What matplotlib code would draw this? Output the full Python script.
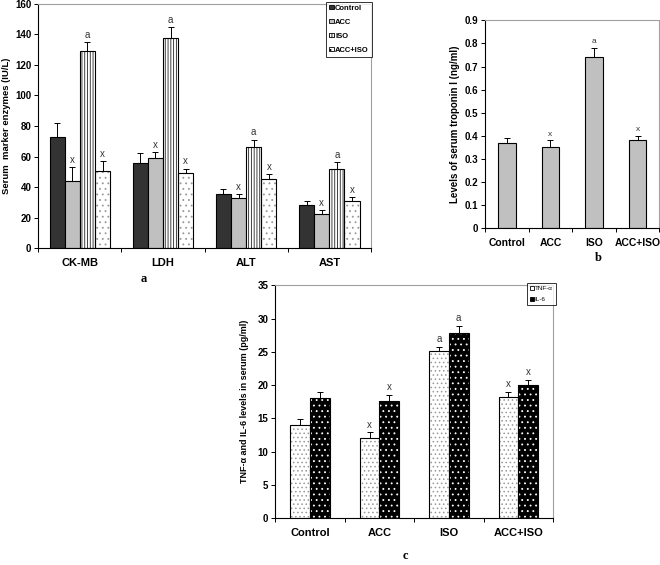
import numpy as np
import matplotlib
matplotlib.use("Agg")
import matplotlib.pyplot as plt

plt.rcParams['font.family'] = ['Liberation Sans', 'DejaVu Sans']
plt.rcParams['hatch.linewidth'] = 0.6

# panel a: serum marker enzymes
enzymes = ['CK-MB', 'LDH', 'ALT', 'AST']
groups_a = ['Control', 'ACC', 'ISO', 'ACC+ISO']
enz_vals = {
    'Control': [73, 55.5, 35.5, 28],
    'ACC': [44, 59, 33, 22.5],
    'ISO': [129, 138, 66.5, 52],
    'ACC+ISO': [50.5, 49, 45, 31],
}
enz_err = {
    'Control': [9, 6.5, 3, 3],
    'ACC': [9, 4, 2.5, 2.5],
    'ISO': [6, 7, 4.5, 4.5],
    'ACC+ISO': [6.5, 3, 3.5, 2.5],
}
enz_marks = {
    'Control': ['', '', '', ''],
    'ACC': ['x', 'x', 'x', 'x'],
    'ISO': ['a', 'a', 'a', 'a'],
    'ACC+ISO': ['x', 'x', 'x', 'x'],
}

# panel b: troponin I
trop_groups = ['Control', 'ACC', 'ISO', 'ACC+ISO']
trop_vals = [0.37, 0.35, 0.74, 0.38]
trop_err = [0.02, 0.03, 0.04, 0.02]
trop_marks = ['', 'x', 'a', 'x']

# panel c: cytokines
cyt_groups = ['Control', 'ACC', 'ISO', 'ACC+ISO']
tnf_vals = [14, 12, 25.2, 18.2]
tnf_err = [0.9, 0.9, 0.6, 0.8]
tnf_marks = ['', 'x', 'a', 'x']
il6_vals = [18.1, 17.6, 27.9, 20]
il6_err = [0.9, 0.9, 1.0, 0.8]
il6_marks = ['', 'x', 'a', 'x']

GRAY_BORDER = '#a0a0a0'


def style_axes(ax):
    for s in ['top', 'right']:
        ax.spines[s].set_color(GRAY_BORDER)
        ax.spines[s].set_linewidth(0.8)
    for s in ['left', 'bottom']:
        ax.spines[s].set_color('black')
        ax.spines[s].set_linewidth(0.8)
    ax.tick_params(axis='y', direction='out', length=3, width=0.7, labelsize=7, pad=2)
    ax.tick_params(axis='x', which='major', length=0, labelsize=8, pad=7)
    ax.tick_params(axis='x', which='minor', direction='out', length=3, width=0.7)
    for lab in ax.get_yticklabels() + ax.get_xticklabels():
        lab.set_fontweight('bold')


def bar_plain(ax, x, h, w, face, hatch=None, hcolor='black'):
    if hatch:
        ax.bar(x, h, w, color=face, edgecolor=hcolor, hatch=hatch, linewidth=0, zorder=2)
        ax.bar(x, h, w, fill=False, edgecolor='black', linewidth=0.8, zorder=3)
    else:
        ax.bar(x, h, w, color=face, edgecolor='black', linewidth=0.8, zorder=2)


def err_up(ax, x, h, e):
    ax.errorbar(x, h, yerr=[np.zeros(len(e)), e], fmt='none', ecolor='black',
                elinewidth=0.7, capsize=2.2, capthick=0.7, zorder=4)


def marks(ax, x, h, e, m, off, fs=7):
    for xi, hi, ei, mi in zip(x, h, e, m):
        if mi:
            ax.text(xi, hi + ei + off, mi, ha='center', va='bottom', fontsize=fs, color='#333333')


fig = plt.figure(figsize=(6.6, 5.65), dpi=100)

# ---------- panel a ----------
ax1 = fig.add_axes([0.058, 0.561, 0.504, 0.432])
styles_a = {
    'Control': dict(face='#333333'),
    'ACC': dict(face='#c0c0c0'),
    'ISO': dict(face='white', hatch='||||||', hcolor='#222222'),
    'ACC+ISO': dict(face='white', hatch='...', hcolor='#999999'),
}
xa = np.arange(len(enzymes))
wa = 0.182
for i, g in enumerate(groups_a):
    xs = xa + (i - 1.5) * wa
    bar_plain(ax1, xs, enz_vals[g], wa, **styles_a[g])
    err_up(ax1, xs, enz_vals[g], enz_err[g])
    marks(ax1, xs, enz_vals[g], enz_err[g], enz_marks[g], 1.5)
ax1.set_xlim(-0.5, 3.5)
ax1.set_ylim(0, 160)
ax1.set_yticks(np.arange(0, 161, 20))
ax1.set_xticks(xa)
ax1.set_xticklabels(enzymes)
ax1.set_xticks(np.arange(-0.5, 3.6, 1), minor=True)
ax1.set_ylabel('Serum  marker enzymes (IU/L)', fontsize=6.8, fontweight='bold')
ax1.yaxis.set_label_coords(-0.082, 0.5)
style_axes(ax1)
handles = [plt.Rectangle((0, 0), 1, 1, facecolor=styles_a[g]['face'], edgecolor='black',
                         hatch=styles_a[g].get('hatch'), linewidth=0.6) for g in groups_a]
leg = ax1.legend(handles, groups_a, loc='upper right', bbox_to_anchor=(1.003, 1.01), fontsize=5.5,
                 frameon=True, fancybox=False, edgecolor='black', handlelength=0.6, handleheight=0.6,
                 handletextpad=0.2, borderpad=0.4, labelspacing=0.9, borderaxespad=0)
leg.get_frame().set_linewidth(0.7)
for t in leg.get_texts():
    t.set_fontweight('bold')
fig.text(0.218, 0.506, 'a', fontsize=9, fontweight='bold', family='Liberation Serif', ha='center', va='center')

# ---------- panel b ----------
ax2 = fig.add_axes([0.735, 0.596, 0.264, 0.368])
xb = np.arange(len(trop_groups))
bar_plain(ax2, xb, trop_vals, 0.41, '#c0c0c0')
err_up(ax2, xb, trop_vals, trop_err)
marks(ax2, xb, trop_vals, trop_err, trop_marks, 0.012, fs=6)
ax2.set_xlim(-0.5, 3.5)
ax2.set_ylim(0, 0.9)
ax2.set_yticks(np.arange(0, 0.91, 0.1))
ax2.set_yticklabels(['0'] + ['%.1f' % v for v in np.arange(0.1, 0.91, 0.1)])
ax2.set_xticks(xb)
ax2.set_xticklabels(trop_groups)
ax2.set_xticks(np.arange(-0.5, 3.6, 1), minor=True)
ax2.set_ylabel('Levels of serum troponin I (ng/ml)', fontsize=7, fontweight='bold', labelpad=3)
style_axes(ax2)
ax2.tick_params(axis='x', labelsize=7.5)
fig.text(0.906, 0.543, 'b', fontsize=9, fontweight='bold', family='Liberation Serif', ha='center', va='center')

# ---------- panel c ----------
ax3 = fig.add_axes([0.417, 0.083, 0.421, 0.412])
xc = np.arange(len(cyt_groups))
wc = 0.285
x_tnf = xc - wc / 2
x_il6 = xc + wc / 2
bar_plain(ax3, x_tnf, tnf_vals, wc, 'white', hatch='....', hcolor='#999999')
bar_plain(ax3, x_il6, il6_vals, wc, 'black', hatch='...', hcolor='white')
err_up(ax3, x_tnf, tnf_vals, tnf_err)
err_up(ax3, x_il6, il6_vals, il6_err)
marks(ax3, x_tnf, tnf_vals, tnf_err, tnf_marks, 0.4)
marks(ax3, x_il6, il6_vals, il6_err, il6_marks, 0.4)
ax3.set_xlim(-0.5, 3.5)
ax3.set_ylim(0, 35)
ax3.set_yticks(np.arange(0, 36, 5))
ax3.set_xticks(xc)
ax3.set_xticklabels(cyt_groups)
ax3.set_xticks(np.arange(-0.5, 3.6, 1), minor=True)
ax3.set_ylabel('TNF-\u03b1 and IL-6 levels in serum (pg/ml)', fontsize=6.5, fontweight='bold', labelpad=6)
style_axes(ax3)
h_c = [plt.Rectangle((0, 0), 1, 1, facecolor='white', edgecolor='black', linewidth=0.6),
       plt.Rectangle((0, 0), 1, 1, facecolor='black', edgecolor='black', linewidth=0.6)]
leg3 = ax3.legend(h_c, ['TNF-\u03b1', 'IL-6'], loc='upper right', bbox_to_anchor=(1.01, 1.01), fontsize=4.5,
                  frameon=True, fancybox=False, edgecolor='black', handlelength=0.5, handleheight=0.5,
                  handletextpad=0.2, borderpad=0.5, labelspacing=1.0, borderaxespad=0)
leg3.get_frame().set_linewidth(0.7)
fig.text(0.614, 0.005, 'c', fontsize=9, fontweight='bold', family='Liberation Serif', ha='center', va='bottom')

fig.savefig('out.png', dpi=100)
